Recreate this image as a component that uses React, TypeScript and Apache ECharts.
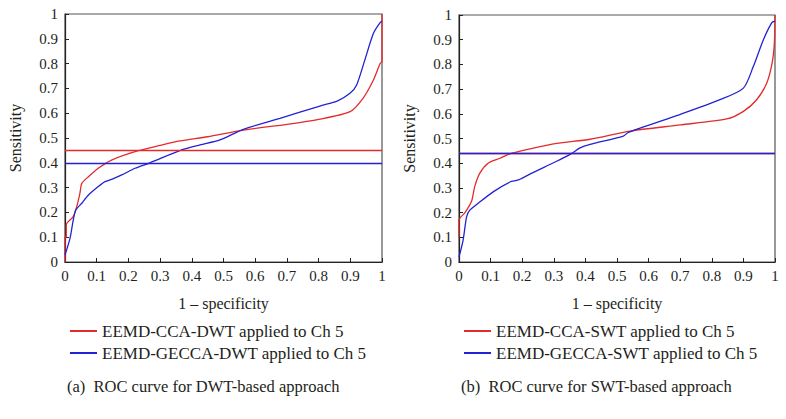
import React, { useEffect, useRef } from "react";
import * as echarts from "echarts";

const dwtCcaName = "EEMD-CCA-DWT applied to Ch 5";
const dwtGeccaName = "EEMD-GECCA-DWT applied to Ch 5";
const swtCcaName = "EEMD-CCA-SWT applied to Ch 5";
const swtGeccaName = "EEMD-GECCA-SWT applied to Ch 5";

const dwtCca = [[0,0],[0,0.1],[0.004,0.1],[0.004,0.15],[0.026,0.183],[0.037,0.223],[0.047,0.277],[0.053,0.317],[0.074,0.344],[0.105,0.378],[0.147,0.411],[0.221,0.445],[0.3,0.47],[0.363,0.488],[0.45,0.505],[0.5625,0.532],[0.7,0.555],[0.8,0.575],[0.899,0.606],[0.94,0.66],[0.973,0.734],[0.994,0.8],[1,0.81],[1,1]];
const dwtGecca = [[0,0.028],[0.016,0.096],[0.026,0.169],[0.034,0.21],[0.053,0.237],[0.074,0.27],[0.105,0.304],[0.126,0.324],[0.147,0.333],[0.179,0.351],[0.221,0.378],[0.268,0.4],[0.368,0.452],[0.426,0.472],[0.489,0.492],[0.5625,0.535],[0.678,0.579],[0.804,0.629],[0.86,0.65],[0.899,0.68],[0.92,0.714],[0.946,0.815],[0.973,0.922],[0.994,0.965],[1,0.97]];
const swtCca = [[0,0.1],[0,0.17],[0.019,0.2],[0.04,0.247],[0.05,0.307],[0.066,0.36],[0.092,0.4],[0.13,0.42],[0.161,0.438],[0.225,0.458],[0.309,0.48],[0.415,0.497],[0.541,0.53],[0.7,0.555],[0.847,0.579],[0.9,0.61],[0.942,0.657],[0.974,0.725],[0.991,0.806],[0.998,0.886],[1,1]];
const swtGecca = [[0,0.02],[0.013,0.089],[0.024,0.183],[0.034,0.21],[0.06,0.237],[0.108,0.284],[0.161,0.324],[0.182,0.33],[0.193,0.335],[0.224,0.356],[0.309,0.408],[0.357,0.44],[0.383,0.462],[0.415,0.476],[0.52,0.51],[0.536,0.525],[0.699,0.597],[0.826,0.657],[0.9,0.704],[0.931,0.79],[0.963,0.899],[0.99,0.969],[1,0.975]];

const dwtCcaLevel = 0.452;
const dwtGeccaLevel = 0.402;
const swtCcaLevel = 0.443;
const swtGeccaLevel = 0.437;

const captions = ["(a)  ROC curve for DWT-based approach", "(b)  ROC curve for SWT-based approach"];

const RED = "#e42b2b";
const BLUE = "#2222d4";
const FONT = "Liberation Serif, serif";
const TXT = "#231f20";

export default function App() {
  const ref = useRef<HTMLDivElement>(null);
  useEffect(() => {
    if (!ref.current) return;
    const chart = echarts.init(ref.current, null, { renderer: "svg" });
    const xAxis = (gi: number) => ({
      type: "value",
      gridIndex: gi,
      min: 0,
      max: 1,
      interval: 0.1,
      name: "1 \u2013 specificity",
      nameLocation: "middle",
      nameGap: 33,
      nameTextStyle: { fontFamily: FONT, fontSize: 16, color: TXT },
      axisLine: { lineStyle: { color: "#222", width: 1.2 } },
      axisTick: { inside: true, length: 4, lineStyle: { color: "#222" } },
      axisLabel: { fontFamily: FONT, fontSize: 15, color: TXT, margin: 6 },
      splitLine: { show: false },
    });
    const yAxis = (gi: number) => ({
      type: "value",
      gridIndex: gi,
      min: 0,
      max: 1,
      interval: 0.1,
      name: "Sensitivity",
      nameLocation: "middle",
      nameGap: 42,
      nameTextStyle: { fontFamily: FONT, fontSize: 16, color: TXT },
      axisLine: { show: true, lineStyle: { color: "#222", width: 1.2 } },
      axisTick: { show: true, inside: true, length: 4, lineStyle: { color: "#222" } },
      axisLabel: { fontFamily: FONT, fontSize: 15, color: TXT, margin: 7 },
      splitLine: { show: false },
    });
    const mk = (name: string, data: number[][], color: string, level: number, gi: number) => ({
      type: "line",
      name,
      xAxisIndex: gi,
      yAxisIndex: gi,
      data,
      color,
      smooth: 0.25,
      showSymbol: false,
      symbol: "none",
      lineStyle: { color, width: 1.3 },
      markLine: {
        silent: true,
        symbol: "none",
        label: { show: false },
        lineStyle: { color, width: 1.3, type: "solid" },
        data: [{ yAxis: level }],
      },
    });
    const legend = (left: number, names: string[]) => ({
      orient: "vertical",
      left,
      top: 315,
      itemWidth: 27,
      itemHeight: 2,
      itemGap: 0,
      icon: "rect",
      data: names,
      textStyle: { fontFamily: FONT, fontSize: 17, color: TXT, lineHeight: 22 },
    });
    chart.setOption({
      animation: false,
      textStyle: { fontFamily: FONT },
      title: [
        { text: captions[0], left: 62, top: 373, textStyle: { fontFamily: FONT, fontSize: 16.5, fontWeight: "normal", color: TXT } },
        { text: captions[1], left: 456, top: 373, textStyle: { fontFamily: FONT, fontSize: 16.5, fontWeight: "normal", color: TXT } },
      ],
      legend: [legend(65, [dwtCcaName, dwtGeccaName]), legend(459, [swtCcaName, swtGeccaName])],
      grid: [
        { left: 65, top: 14, width: 317, height: 248, show: true, borderColor: "#555", borderWidth: 1.2 },
        { left: 459, top: 15, width: 316, height: 247, show: true, borderColor: "#555", borderWidth: 1.2 },
      ],
      xAxis: [xAxis(0), xAxis(1)],
      yAxis: [yAxis(0), yAxis(1)],
      series: [
        mk(dwtCcaName, dwtCca, RED, dwtCcaLevel, 0),
        mk(dwtGeccaName, dwtGecca, BLUE, dwtGeccaLevel, 0),
        mk(swtCcaName, swtCca, RED, swtCcaLevel, 1),
        mk(swtGeccaName, swtGecca, BLUE, swtGeccaLevel, 1),
      ],
    });
    return () => chart.dispose();
  }, []);
  return <div ref={ref} style={{ position: "fixed", left: 0, top: 0, width: 786, height: 419, background: "#fff" }} />;
}
